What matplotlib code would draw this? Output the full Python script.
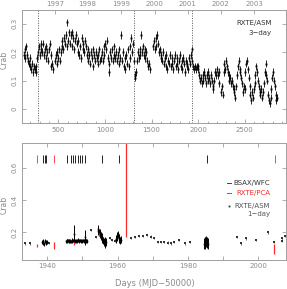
import numpy as np
import matplotlib
matplotlib.use("Agg")
import matplotlib.pyplot as plt
from matplotlib.ticker import MultipleLocator

plt.rcParams['font.family'] = ['DejaVu Sans']

# ---------------- top panel: RXTE/ASM 3-day light curve ----------------
asm3_days = np.arange(130, 2849, 9)
asm3_vals = [
    0.19, 0.21, 0.18, 0.22, 0.19, 0.17, 0.16, 0.18, 0.15, 0.14, 0.16,
    0.13, 0.15, 0.14, 0.13, 0.15, 0.18, 0.20, 0.22, 0.19, 0.21, 0.23,
    0.20, 0.23, 0.19, 0.21, 0.18, 0.22, 0.20, 0.17, 0.21, 0.23, 0.19,
    0.15, 0.16, 0.14, np.nan, 0.17, 0.19, 0.16, 0.20, 0.18, 0.21, 0.17,
    0.20, 0.22, 0.24, 0.21, 0.25, 0.23, 0.26, 0.22, 0.305, 0.24, 0.27,
    0.23, 0.26, 0.22, 0.27, 0.25, 0.21, 0.24, 0.26, 0.23, 0.20, 0.24,
    0.19, 0.22, 0.18, 0.25, 0.21, 0.23, 0.20, 0.24, 0.22, 0.19, 0.21,
    0.17, 0.19, 0.16, 0.20, 0.18, 0.21, 0.15, 0.19, 0.17, 0.20, 0.18,
    0.16, 0.19, 0.21, 0.17, 0.18, 0.20, 0.17, 0.22, 0.19, 0.23, 0.21,
    0.24, 0.18, 0.13, 0.16, 0.20, 0.18, 0.21, 0.17, 0.19, 0.22, 0.18,
    0.20, 0.17, 0.19, 0.16, 0.21, 0.18, 0.26, 0.17, 0.20, 0.15, 0.18,
    0.14, 0.19, 0.16, 0.21, 0.15, 0.18, 0.22, 0.25, 0.20, 0.23, 0.17,
    0.12, 0.11, 0.13, 0.17, 0.20, 0.18, 0.19, 0.21, 0.26, 0.20, 0.22,
    0.19, 0.21, 0.18, 0.20, 0.17, 0.15, 0.16, 0.14, np.nan, np.nan, np.nan,
    0.22, 0.24, 0.21, 0.25, 0.22, 0.26, 0.23, 0.20, 0.21, 0.19, 0.18,
    0.17, 0.20, 0.16, 0.18, 0.15, 0.19, 0.14, 0.17, 0.16, 0.19, 0.15,
    0.18, 0.16, 0.14, 0.17, 0.19, 0.15, 0.18, 0.16, 0.14, 0.17, 0.19,
    0.15, 0.17, 0.14, 0.18, 0.16, 0.13, 0.17, 0.15, 0.16, 0.14, 0.18,
    0.16, 0.19, 0.21, 0.17, 0.15, 0.14, 0.15, 0.14, 0.15, 0.14, 0.15,
    0.12, 0.10, 0.11, 0.09, 0.12, 0.10, 0.13, 0.11, 0.09, 0.12, 0.10,
    0.13, 0.11, 0.09, 0.12, 0.10, 0.08, 0.07, 0.10, 0.13, 0.12, 0.14,
    0.12, 0.13, 0.09, np.nan, 0.06, 0.08, 0.05, 0.13, 0.16, 0.14, 0.17,
    0.15, 0.13, 0.12, 0.10, 0.11, 0.09, 0.10, 0.08, 0.07, 0.06, 0.04,
    0.08, 0.12, 0.15, 0.17, 0.13, 0.14, 0.11, 0.09, 0.06, 0.08, 0.07,
    0.13, 0.16, 0.17, 0.14, 0.11, 0.08, 0.05, 0.03, 0.06, 0.04, 0.07,
    0.09, 0.12, 0.15, 0.13, 0.10, 0.08, 0.06, 0.05, 0.07, 0.04, 0.06,
    0.09, 0.13, 0.16, 0.12, 0.10, 0.05, 0.03, 0.02, 0.04, 0.07, 0.11,
    0.13, 0.10, 0.08, 0.05, 0.03, 0.04,
]
asm3_err = 0.013
dotted_days = [280, 1314, 1939]
year_days = [465, 815, 1172, 1536, 1886, 2242, 2599]
year_labels = ['1997', '1998', '1999', '2000', '2001', '2002', '2003']

# ---------------- bottom panel ----------------
asm1_t = [1933.6, 1935.0, 1940.6, 1952.4, 1953.8, 1957.7, 1958.5, 1959.2,
          1963.8, 1964.9, 1966.0, 1967.2, 1968.3, 1969.4, 1970.4, 1971.4,
          1972.4, 1973.3, 1974.3, 1975.2, 1976.2, 1977.4, 1979.2, 1980.7,
          1994.1, 1995.2, 1996.5, 1999.3, 2002.7, 2004.5, 2006.8, 2006.9,
          2007.6]
asm1_v = [0.132, 0.132, 0.135, 0.214, 0.170, 0.165, 0.155, 0.150,
          0.165, 0.170, 0.178, 0.180, 0.185, 0.175, 0.168, 0.140,
          0.140, 0.140, 0.138, 0.132, 0.142, 0.152, 0.132, 0.142,
          0.172, 0.132, 0.163, 0.155, 0.200, 0.140, 0.150, 0.165,
          0.178]
asm1_err = 0.007

wfc_t = ([1938.5, 1938.7, 1938.9, 1939.1, 1939.3, 1939.5, 1939.7, 1939.9]
         + list(np.round(np.arange(1945.3, 1951.4, 0.2), 1))
         + [1947.6, 1950.7]
         + [1954.3, 1954.5, 1954.7, 1954.9, 1955.1, 1955.3, 1955.5, 1955.7,
            1955.9, 1956.1, 1956.3, 1956.5, 1956.7]
         + [1959.5, 1959.7, 1959.9, 1960.1, 1960.3, 1960.5, 1960.7, 1960.9]
         + [1984.6, 1984.8, 1985.0, 1985.2, 1985.4, 1985.6])
wfc_v = ([0.140, 0.135, 0.150, 0.130, 0.145, 0.140, 0.135, 0.140]
         + [0.145, 0.152, 0.147, 0.150, 0.144, 0.151, 0.148, 0.146, 0.153, 0.147,
            0.150, 0.145, 0.152, 0.148, 0.146, 0.150, 0.147, 0.153, 0.145, 0.149,
            0.151, 0.146, 0.150, 0.148, 0.152, 0.145, 0.149, 0.151, 0.147, 0.150,
            0.148]
         + [0.190, 0.170]
         + [0.210, 0.220, 0.200, 0.190, 0.200, 0.180, 0.170, 0.160, 0.150, 0.140,
            0.145, 0.130, 0.140]
         + [0.160, 0.170, 0.180, 0.190, 0.170, 0.160, 0.150, 0.155]
         + [0.130, 0.140, 0.135, 0.145, 0.140, 0.130])
wfc_e = ([0.012] * 8 + [0.010] * 31 + [0.055, 0.045] + [0.024] * 13
         + [0.022] * 8 + [0.035] * 6)

pca_t = [1937.0, 1941.9, 1947.7, 1954.6, 1962.5, 2004.6]
pca_v = [0.120, 0.120, 0.135, 0.190, 0.500, 0.100]
pca_e = [0.010, 0.020, 0.012, 0.013, 0.330, 0.030]

wfc_obs = [1938.9, 1939.3, 1939.5, 1945.7, 1946.7, 1947.3, 1947.9, 1948.6,
           1949.3, 1950.0, 1950.7, 1955.5, 1960.5, 1985.4]
pca_obs = [1937.0, 1941.9, 2004.8]
obs_lo, obs_hi = 0.628, 0.680

spine_c = '#a0a0a0'
lab_c = '#8a8a8a'

fig = plt.figure(figsize=(2.87, 2.89), dpi=100)
ax1 = fig.add_axes([0.078, 0.5737, 0.918, 0.3934])
ax2 = fig.add_axes([0.078, 0.1003, 0.918, 0.4039])

for ax in (ax1, ax2):
    for s in ax.spines.values():
        s.set_color(spine_c)
        s.set_linewidth(0.7)
    ax.tick_params(which='both', direction='in', colors=spine_c,
                   labelcolor=lab_c, labelsize=5, width=0.6, pad=2.5)
    ax.tick_params(which='major', length=3)
    ax.tick_params(which='minor', length=1.5)

# top panel
ax1.errorbar(asm3_days, asm3_vals, yerr=asm3_err, fmt='s', ms=1.4,
             color='black', elinewidth=0.6, capsize=0, mew=0)
for d in dotted_days:
    ax1.axvline(d, color='#555555', ls=(0, (1, 1.5)), lw=0.7)
ax1.set_xlim(115, 2940)
ax1.set_ylim(-0.05, 0.35)
ax1.set_xticks([500, 1000, 1500, 2000, 2500])
ax1.xaxis.set_minor_locator(MultipleLocator(100))
ax1.set_yticks([0, 0.1, 0.2, 0.3])
ax1.set_yticklabels(['0', '0.1', '0.2', '0.3'])
ax1.tick_params(axis='y', right=True, labelrotation=90, pad=3.5)
for t in ax1.get_yticklabels():
    t.set_va('center')
axt = ax1.twiny()
axt.set_xlim(ax1.get_xlim())
axt.set_xticks(year_days)
axt.set_xticklabels(year_labels)
axt.tick_params(direction='in', length=3, width=0.6, colors=spine_c,
                labelcolor=lab_c, labelsize=5, pad=1.5)
for s in axt.spines.values():
    s.set_visible(False)
ax1.text(0.946, 0.879, 'RXTE/ASM', transform=ax1.transAxes, ha='right',
         va='center', fontsize=5, color='#333333')
ax1.text(0.946, 0.796, '3\u2212day', transform=ax1.transAxes, ha='right',
         va='center', fontsize=5, color='#333333')

# bottom panel
ax2.errorbar(asm1_t, asm1_v, yerr=asm1_err, fmt='s', ms=1.7, color='#333333',
             elinewidth=0.5, capsize=0, mew=0)
ax2.errorbar(wfc_t, wfc_v, yerr=wfc_e, fmt='s', ms=1.2, color='black',
             elinewidth=0.7, capsize=0, mew=0)
ax2.errorbar(pca_t, pca_v, yerr=pca_e, fmt='none', ecolor='#ff2a2a',
             elinewidth=0.9, capsize=0)
ax2.vlines(wfc_obs, obs_lo, obs_hi, color='black', lw=0.6)
ax2.vlines(pca_obs, obs_lo, obs_hi, color='#ff2a2a', lw=0.6)
ax2.set_xlim(1932.9, 2007.9)
ax2.set_ylim(0.03, 0.75)
ax2.set_xticks([1940, 1950, 1960, 1970, 1980, 1990, 2000])
ax2.set_xticklabels(['1940', '', '1960', '', '1980', '', '2000'])
ax2.set_yticks([0.2, 0.4, 0.6])
ax2.set_yticklabels(['0.2', '0.4', '0.6'])
ax2.tick_params(axis='both', top=True, right=True)
ax2.tick_params(axis='y', labelrotation=90, pad=3.5)
for t in ax2.get_yticklabels():
    t.set_va('center')

ax2.plot([0.775, 0.79], [0.662, 0.662], transform=ax2.transAxes,
         color='#444444', lw=0.7)
ax2.plot([0.775, 0.79], [0.572, 0.572], transform=ax2.transAxes,
         color='#ff2a2a', lw=0.7)
ax2.plot([0.783], [0.465], transform=ax2.transAxes, marker='s', ms=1.3,
         color='#333333', mew=0)
ax2.text(0.941, 0.662, 'BSAX/WFC', transform=ax2.transAxes, ha='right',
         va='center', fontsize=5, color='#333333')
ax2.text(0.941, 0.572, 'RXTE/PCA', transform=ax2.transAxes, ha='right',
         va='center', fontsize=5, color='#ff2a2a')
ax2.text(0.941, 0.465, 'RXTE/ASM', transform=ax2.transAxes, ha='right',
         va='center', fontsize=5, color='#555555')
ax2.text(0.941, 0.394, '1\u2212day', transform=ax2.transAxes, ha='right',
         va='center', fontsize=5, color='#555555')

fig.text(0.016, 1 - 60 / 289, 'Crab', rotation=90, ha='center', va='center',
         fontsize=5.5, color=lab_c)
fig.text(0.016, 1 - 205 / 289, 'Crab', rotation=90, ha='center', va='center',
         fontsize=5.5, color=lab_c)
fig.text(0.54, 1 - 284 / 289, 'Days (MJD\u221250000)', ha='center',
         va='center', fontsize=6, color=lab_c)

fig.savefig('out.png', dpi=100)
